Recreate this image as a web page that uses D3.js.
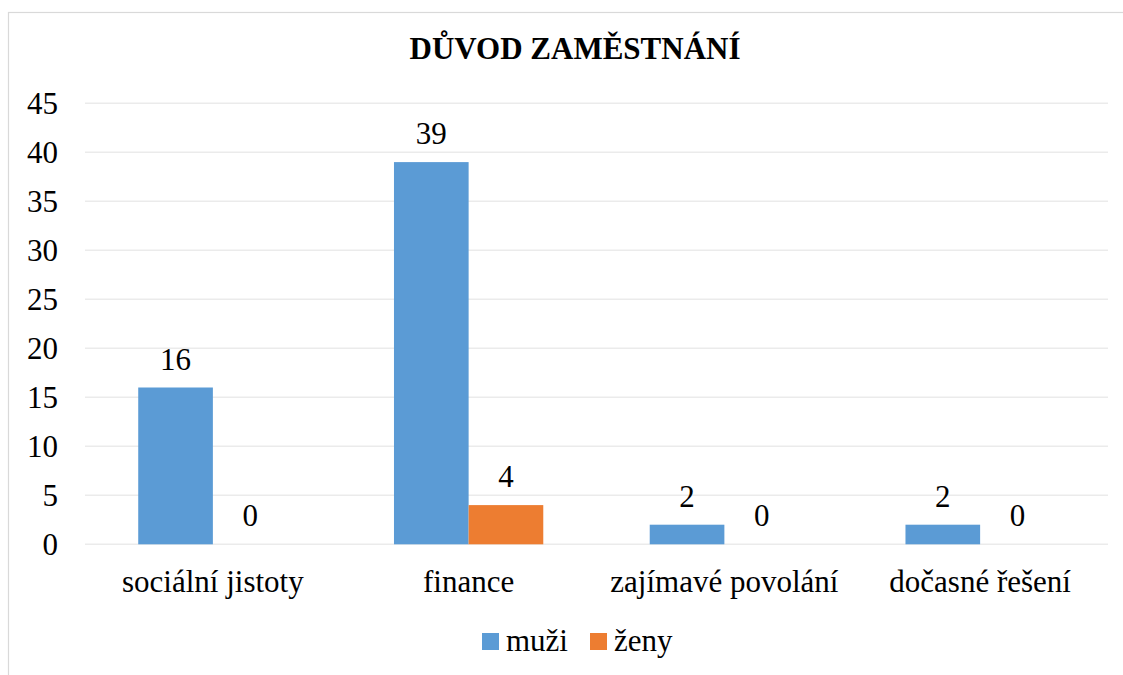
<!DOCTYPE html>
<html><head><meta charset="utf-8">
<script src="https://cdn.jsdelivr.net/npm/d3@7"></script>
</head><body style="margin:0">
<svg id="c" width="1123" height="675"></svg>
<script>
const categories = ["sociální jistoty","finance","zajímavé povolání","dočasné řešení"];
const seriesNames = ["muži","ženy"];
const muzi = [16,39,2,2];
const zeny = [0,4,0,0];
const yTicks = [0,5,10,15,20,25,30,35,40,45];
const colors = ["#5B9BD5","#ED7D31"];
const title = "DŮVOD ZAMĚSTNÁNÍ";

const FONT = "Liberation Serif";
const FS = 31;
const svg = d3.select("#c");
svg.append("rect").attr("x",8.5).attr("y",12.5).attr("width",1130).attr("height",680)
  .attr("fill","none").attr("stroke","#D9D9D9").attr("stroke-width",1.2);

const L=85, R=1108, T=103.3, B=544.3;
const x = d3.scaleBand().domain(categories).range([L,R]).paddingInner(0).paddingOuter(0);
const y = d3.scaleLinear().domain([0,45]).range([B,T]);
const xs = d3.scaleBand().domain(seriesNames).range([0,x.bandwidth()]).paddingOuter(0.713).paddingInner(0);

svg.append("g").selectAll("line").data(yTicks).join("line")
  .attr("x1",L).attr("x2",R).attr("y1",d=>y(d)).attr("y2",d=>y(d))
  .attr("stroke","#EBEBEB").attr("stroke-width",1.5);

svg.append("g").selectAll("text").data(yTicks).join("text")
  .attr("x",58).attr("y",d=>y(d)).attr("dy","0.34em").attr("text-anchor","end")
  .attr("font-family",FONT).attr("font-size",FS).attr("fill","#000").text(d=>d);

svg.append("g").selectAll("text").data(categories).join("text")
  .attr("x",d=>x(d)+x.bandwidth()/2).attr("y",B+47.7).attr("text-anchor","middle")
  .attr("font-family",FONT).attr("font-size",FS).attr("fill","#000").text(d=>d);

const data = categories.map((c,i)=>({c, vals:[muzi[i],zeny[i]]}));
const groups = svg.append("g").selectAll("g").data(data).join("g")
  .attr("transform",d=>`translate(${x(d.c)},0)`);
groups.selectAll("rect").data(d=>d.vals.map((v,j)=>({s:seriesNames[j],v,j}))).join("rect")
  .attr("x",d=>xs(d.s)).attr("width",xs.bandwidth())
  .attr("y",d=>y(d.v)).attr("height",d=>B-y(d.v)).attr("fill",d=>colors[d.j]);
groups.selectAll("text").data(d=>d.vals.map((v,j)=>({s:seriesNames[j],v,j}))).join("text")
  .attr("x",d=>xs(d.s)+xs.bandwidth()/2).attr("y",d=>y(d.v)-18)
  .attr("text-anchor","middle").attr("font-family",FONT).attr("font-size",FS).attr("fill","#000")
  .text(d=>d.v);

svg.append("text").attr("x",575).attr("y",59).attr("text-anchor","middle")
  .attr("font-family",FONT).attr("font-size",FS).attr("font-weight","bold").attr("fill","#000").text(title);

const legX = [482,590];
const leg = svg.append("g").selectAll("g").data(seriesNames).join("g");
leg.append("rect").attr("x",(d,i)=>legX[i]).attr("y",633).attr("width",17).attr("height",17).attr("fill",(d,i)=>colors[i]);
leg.append("text").attr("x",(d,i)=>legX[i]+24).attr("y",651).attr("font-family",FONT).attr("font-size",FS)
  .attr("fill","#000").text(d=>d);
</script>
</body></html>
